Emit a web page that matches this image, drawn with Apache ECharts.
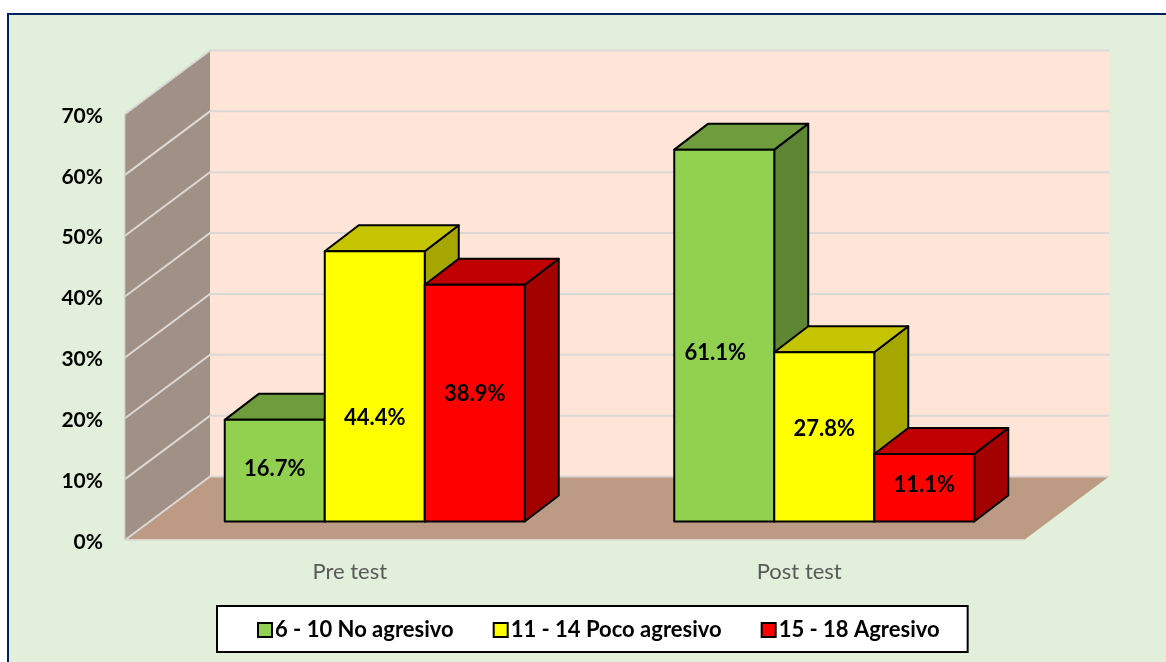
<!DOCTYPE html>
<html><head><meta charset="utf-8">
<style>html,body{margin:0;padding:0;background:#fff}#c{width:1166px;height:662px}</style>
<script src="https://cdn.jsdelivr.net/npm/echarts@6/dist/echarts.min.js"></script>
</head><body><div id="c"></div>
<script>
const categories = ['Pre test', 'Post test'];
const noAgresivo = [16.7, 61.1];
const pocoAgresivo = [44.4, 27.8];
const agresivo = [38.9, 11.1];
const yTicks = [0, 10, 20, 30, 40, 50, 60, 70];

// Hand placement of the data labels, per series and category (px from face centre)
const labelNudges = { green: [-2, 17], yellow: [32, -8], red: [-9, -3] };
const labelNudgeX = { green: [0, -9], yellow: [0, 0], red: [0, 0] };

const FONT = 'Lato, Carlito, "Open Sans", sans-serif';
const WALL_DX = 85, WALL_DY = -63.5;
const BAR_SHIFT_X = 25, BAR_SHIFT_Y = -18.5;
const BAR_DX = 34, BAR_DY = -26;
const BAR_W_FRAC = 100 / 449.5;

function wallRender(params, api) {
  const cs = params.coordSys;
  const l = cs.x, r = cs.x + cs.width;
  const y0 = api.coord([0, 0])[1], yT = api.coord([0, 70])[1];
  const children = [
    { type: 'polygon', shape: { points: [[l + WALL_DX, yT + WALL_DY], [r + WALL_DX, yT + WALL_DY], [r + WALL_DX, y0 + WALL_DY], [l + WALL_DX, y0 + WALL_DY]] }, style: { fill: '#FEE5D8' } },
    { type: 'polygon', shape: { points: [[l, yT], [l + WALL_DX, yT + WALL_DY], [l + WALL_DX, y0 + WALL_DY], [l, y0]] }, style: { fill: '#A09086' } },
    { type: 'polygon', shape: { points: [[l, y0], [r, y0], [r + WALL_DX, y0 + WALL_DY], [l + WALL_DX, y0 + WALL_DY]] }, style: { fill: '#BC9A84' } }
  ];
  yTicks.forEach(function (t) {
    const y = api.coord([0, t])[1];
    children.push({ type: 'polyline', shape: { points: [[l, y], [l + WALL_DX, y + WALL_DY], [r + WALL_DX, y + WALL_DY]] },
      style: { fill: 'none', stroke: '#DBD8D6', lineWidth: 2 } });
  });
  const y0c = api.coord([0, 0])[1];
  children.push({ type: 'line', shape: { x1: l, y1: y0c, x2: r, y2: y0c }, style: { stroke: '#DBD8D6', lineWidth: 2 } });
  children.push({ type: 'line', shape: { x1: l, y1: yT, x2: l, y2: y0c }, style: { stroke: '#C9C4C0', lineWidth: 1 } });
  return { type: 'group', children: children };
}

function barRender(slot, key, front, top, side) {
  return function (params, api) {
    const idx = api.value(0), v = api.value(1);
    const band = api.size([1, 0])[0];
    const w = band * BAR_W_FRAC;
    const c = api.coord([idx, 0])[0] + BAR_SHIFT_X;
    const x0 = c - 1.5 * w + slot * w, x1 = x0 + w;
    const yb = api.coord([idx, 0])[1] + BAR_SHIFT_Y;
    const yt = api.coord([idx, v])[1] + BAR_SHIFT_Y;
    const line = { stroke: '#000', lineWidth: 2, lineJoin: 'round' };
    return { type: 'group', children: [
      { type: 'polygon', shape: { points: [[x1, yb], [x1 + BAR_DX, yb + BAR_DY], [x1 + BAR_DX, yt + BAR_DY], [x1, yt]] }, style: Object.assign({ fill: side }, line) },
      { type: 'polygon', shape: { points: [[x0, yt], [x1, yt], [x1 + BAR_DX, yt + BAR_DY], [x0 + BAR_DX, yt + BAR_DY]] }, style: Object.assign({ fill: top }, line) },
      { type: 'rect', shape: { x: x0, y: yt, width: w, height: yb - yt }, style: Object.assign({ fill: front }, line) },
      { type: 'text', z2: 10, x: (x0 + x1) / 2 + labelNudgeX[key][idx], y: (yt + yb) / 2 + labelNudges[key][idx],
        style: { text: v.toFixed(1) + '%', fill: '#000', font: 'bold 22px ' + FONT, textAlign: 'center', textVerticalAlign: 'middle' } }
    ] };
  };
}

function barSeries(name, values, slot, key, front, top, side, z) {
  return { type: 'custom', name: name, z: z, coordinateSystem: 'cartesian2d',
    data: values.map(function (v, i) { return [i, v]; }),
    encode: { x: 0, y: 1 }, clip: false,
    itemStyle: { color: front, borderColor: '#000', borderWidth: 1.5 },
    renderItem: barRender(slot, key, front, top, side) };
}

const chart = echarts.init(document.getElementById('c'), null, { renderer: 'canvas' });
chart.setOption({
  animation: false,
  graphic: [{ type: 'rect', z: -10, silent: true, shape: { x: 8, y: 14, width: 1172, height: 662 },
    style: { fill: '#E2EFDA', stroke: '#002060', lineWidth: 2 } }],
  grid: { left: 125, top: 114, width: 899, height: 426, containLabel: false },
  xAxis: { type: 'category', data: categories, axisLine: { show: false }, axisTick: { show: false },
    axisLabel: { color: '#595959', fontFamily: FONT, fontSize: 22, margin: 21 } },
  yAxis: { type: 'value', min: 0, max: 70, interval: 10, axisLine: { show: false }, axisTick: { show: false },
    splitLine: { show: false },
    axisLabel: { margin: 22, formatter: '{a|{value}%}',
      rich: { a: { color: '#000', fontFamily: FONT, fontWeight: 'bold', fontSize: 21, padding: [4, 0, 0, 0] } } } },
  legend: { show: true, left: 217, top: 606, padding: [13, 28, 11, 40], itemWidth: 14, itemHeight: 14, itemGap: 39,
    backgroundColor: '#fff', borderColor: '#000', borderWidth: 2, borderRadius: 0, icon: 'rect',
    textStyle: { color: '#000', fontFamily: FONT, fontWeight: 'bold', fontSize: 22, padding: [0, 0, 0, -2] },
    data: ['6 - 10 No agresivo', '11 - 14 Poco agresivo', '15 - 18 Agresivo'] },
  series: [
    { type: 'custom', name: 'walls', z: 1, silent: true, clip: false, data: [[0, 0]], encode: { x: 0, y: 1 }, renderItem: wallRender },
    barSeries('6 - 10 No agresivo', noAgresivo, 0, 'green', '#92D050', '#6F9C3D', '#5F8733', 2),
    barSeries('11 - 14 Poco agresivo', pocoAgresivo, 1, 'yellow', '#FFFF00', '#C4C400', '#A6A600', 3),
    barSeries('15 - 18 Agresivo', agresivo, 2, 'red', '#FF0000', '#C00000', '#A30000', 4)
  ]
});
</script></body></html>
